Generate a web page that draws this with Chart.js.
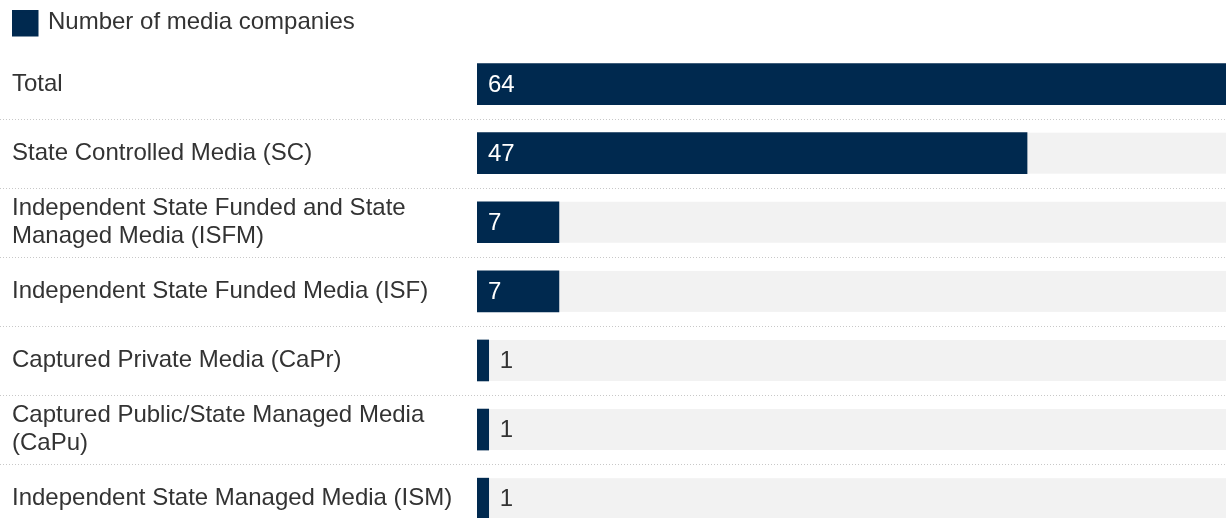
<!DOCTYPE html>
<html>
<head>
<meta charset="utf-8">
<script src="https://cdn.jsdelivr.net/npm/chart.js@4"></script>
<style>
  html, body { margin: 0; padding: 0; background: #fff; overflow: hidden; }
  canvas { display: block; }
</style>
</head>
<body>
<canvas id="media-chart" width="1226" height="518"></canvas>
<script>
const categories = [
  'Total',
  'State Controlled Media (SC)',
  ['Independent State Funded and State', 'Managed Media (ISFM)'],
  'Independent State Funded Media (ISF)',
  'Captured Private Media (CaPr)',
  ['Captured Public/State Managed Media', '(CaPu)'],
  'Independent State Managed Media (ISM)'
];
const mediaCompanies = [64, 47, 7, 7, 1, 1, 1];
const seriesLabel = 'Number of media companies';

const NAVY = '#00294f';
const TRACK = '#f2f2f2';
const TEXT = '#333333';
const FONT = '"Liberation Sans", Arial, sans-serif';
const FONT_SIZE = 24;
const LABEL_COL = 477;

// rows run down a linear index axis; the last row is clipped by the bottom edge
const ROW_MIN = -0.58;
const ROW_MAX = 6.28;

// grey track behind every bar, spanning the whole value axis
const trackPlugin = {
  id: 'tracks',
  beforeDatasetsDraw(chart) {
    const { ctx, scales: { x } } = chart;
    const meta = chart.getDatasetMeta(0);
    ctx.save();
    ctx.fillStyle = TRACK;
    meta.data.forEach(bar => {
      const h = bar.height;
      ctx.fillRect(x.left, bar.y - h / 2, x.right - x.left, h);
    });
    ctx.restore();
  }
};

// dotted separators between rows, full page width
const separatorPlugin = {
  id: 'separators',
  beforeDraw(chart) {
    const { ctx, width, scales: { y } } = chart;
    ctx.save();
    ctx.strokeStyle = '#c8c8c8';
    ctx.lineWidth = 1;
    ctx.setLineDash([1, 2]);
    for (let i = 0; i < categories.length - 1; i++) {
      const yy = Math.round(y.getPixelForValue(i + 0.5)) + 0.5;
      ctx.beginPath();
      ctx.moveTo(0, yy);
      ctx.lineTo(width, yy);
      ctx.stroke();
    }
    ctx.restore();
  }
};

// value labels: white inside wide bars, dark just past narrow ones
const valuePlugin = {
  id: 'values',
  afterDatasetsDraw(chart) {
    const { ctx } = chart;
    const meta = chart.getDatasetMeta(0);
    ctx.save();
    ctx.font = `${FONT_SIZE}px ${FONT}`;
    ctx.textBaseline = 'middle';
    ctx.textAlign = 'left';
    meta.data.forEach((bar, i) => {
      const txt = String(mediaCompanies[i]);
      const w = ctx.measureText(txt).width;
      const barW = bar.x - bar.base;
      if (barW > w + 24) {
        ctx.fillStyle = '#ffffff';
        ctx.fillText(txt, bar.base + 11, bar.y + 1);
      } else {
        ctx.fillStyle = TEXT;
        ctx.fillText(txt, bar.x + 11, bar.y + 1);
      }
    });
    ctx.restore();
  }
};

new Chart(document.getElementById('media-chart'), {
  type: 'bar',
  data: {
    datasets: [{
      label: seriesLabel,
      data: mediaCompanies.map((v, i) => ({ x: v, y: i })),
      backgroundColor: NAVY,
      borderWidth: 0,
      barThickness: 41
    }]
  },
  plugins: [separatorPlugin, trackPlugin, valuePlugin],
  options: {
    indexAxis: 'y',
    responsive: false,
    animation: false,
    layout: { padding: { left: 12, right: 0, top: 10, bottom: 0 } },
    plugins: {
      legend: {
        position: 'top',
        align: 'start',
        labels: {
          boxWidth: 24,
          boxHeight: 24,
          padding: 0,
          color: TEXT,
          font: { family: FONT, size: FONT_SIZE },
          // thick outline in the fill colour makes the swatch a bit larger
          generateLabels: chart => Chart.defaults.plugins.legend.labels.generateLabels(chart)
            .map(item => ({ ...item, lineWidth: 5, strokeStyle: NAVY }))
        }
      },
      tooltip: { enabled: false }
    },
    scales: {
      x: {
        display: false,
        min: 0,
        max: Math.max(...mediaCompanies)
      },
      y: {
        type: 'linear',
        reverse: true,
        offset: false,
        min: ROW_MIN,
        max: ROW_MAX,
        grid: { display: false, drawTicks: false },
        border: { display: false },
        afterBuildTicks(scale) {
          scale.ticks = categories.map((_, i) => ({ value: i }));
        },
        ticks: {
          autoSkip: false,
          crossAlign: 'far',
          padding: 0,
          color: TEXT,
          font: { family: FONT, size: FONT_SIZE, lineHeight: 1.18 },
          callback: v => categories[v]
        },
        afterFit(scale) {
          scale.width = LABEL_COL - 12;
          // labels sit well inside the range, no edge padding needed
          scale.paddingTop = 0;
          scale.paddingBottom = 0;
        }
      }
    }
  }
});
</script>
</body>
</html>
